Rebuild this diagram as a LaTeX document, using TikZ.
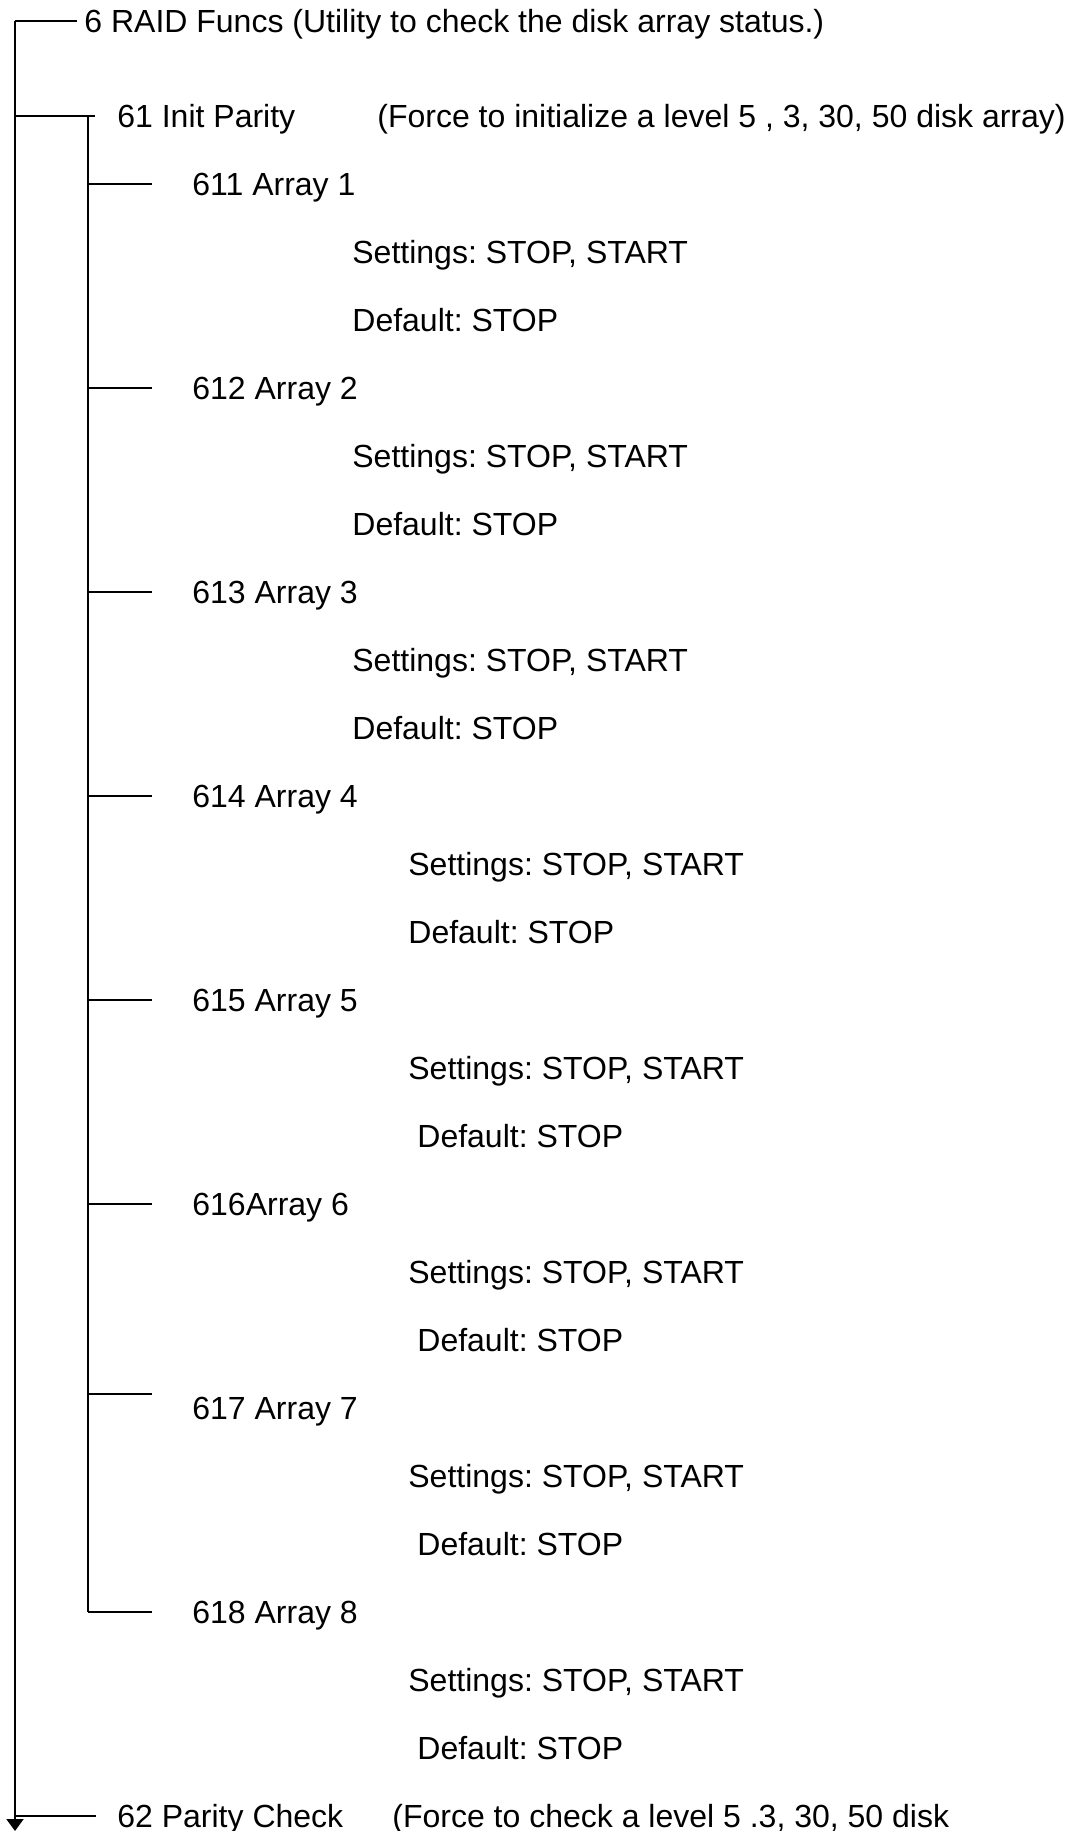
\documentclass[tikz,border=0pt]{standalone}
\usepackage{fontspec}
\setmainfont{Liberation Sans}
\usetikzlibrary{arrows.meta}
\frenchspacing

\tikzset{
  item/.style={anchor=west,inner sep=0pt,text height=11.5pt,text depth=0pt,
    font=\fontsize{16pt}{19pt}\selectfont},
  branch/.style={line width=1pt}
}

\begin{document}
\begin{tikzpicture}[x=0.5pt,y=-0.5pt]
\useasboundingbox (0,0) rectangle (1072,1831);

% Racine
\coordinate (top) at (15,21);
\coordinate (bot) at (15,1831);
\coordinate (sp) at (88,0);
\node[item] (raid) at (84,21) {6 RAID Funcs (Utility to check the disk array status.)};
\draw[branch] (top) -- ([xshift=-3.5pt]raid.west);
\draw[branch,-{Triangle[width=8.5pt,length=6pt]}] (top) -- (bot);

% 61
\node[item] (i61) at (117,115.5) {61 Init Parity};
\node[item] (f61) at (377,115.5) {(Force to initialize a level 5 , 3, 30, 50 disk array)};
\draw[branch] (i61.west -| top) -- ([xshift=-11pt]i61.west);

% 611
\node[item] (a611) at (192,183.5) {611 Array 1};
\node[item] (s611) at (352,251.5) {Settings: STOP, START};
\node[item] (d611) at (352,319.5) {Default: STOP};
\draw[branch] (a611.west -| sp) -- ([xshift=-20pt]a611.west);

% 612
\node[item] (a612) at (192,387.5) {612 Array 2};
\node[item] (s612) at (352,455.5) {Settings: STOP, START};
\node[item] (d612) at (352,523.5) {Default: STOP};
\draw[branch] (a612.west -| sp) -- ([xshift=-20pt]a612.west);

% 613
\node[item] (a613) at (192,591.5) {613 Array 3};
\node[item] (s613) at (352,659.5) {Settings: STOP, START};
\node[item] (d613) at (352,727.5) {Default: STOP};
\draw[branch] (a613.west -| sp) -- ([xshift=-20pt]a613.west);

% 614
\node[item] (a614) at (192,795.5) {614 Array 4};
\node[item] (s614) at (408,863.5) {Settings: STOP, START};
\node[item] (d614) at (408,931.5) {Default: STOP};
\draw[branch] (a614.west -| sp) -- ([xshift=-20pt]a614.west);

% 615
\node[item] (a615) at (192,999.5) {615 Array 5};
\node[item] (s615) at (408,1067.5) {Settings: STOP, START};
\node[item] (d615) at (417,1135.5) {Default: STOP};
\draw[branch] (a615.west -| sp) -- ([xshift=-20pt]a615.west);

% 616
\node[item] (a616) at (192,1203.5) {616Array 6};
\node[item] (s616) at (408,1271.5) {Settings: STOP, START};
\node[item] (d616) at (417,1339.5) {Default: STOP};
\draw[branch] (a616.west -| sp) -- ([xshift=-20pt]a616.west);

% 617
\node[item] (a617) at (192,1407.5) {617 Array 7};
\node[item] (s617) at (408,1475.5) {Settings: STOP, START};
\node[item] (d617) at (417,1543.5) {Default: STOP};
\draw[branch] ([yshift=7pt]a617.west -| sp) -- ([xshift=-20pt,yshift=7pt]a617.west);

% 618
\node[item] (a618) at (192,1611.5) {618 Array 8};
\node[item] (s618) at (408,1679.5) {Settings: STOP, START};
\node[item] (d618) at (417,1747.5) {Default: STOP};
\draw[branch] (a618.west -| sp) -- ([xshift=-20pt]a618.west);

% Tige 61
\draw[branch] (i61.west -| sp) -- (a618.west -| sp);

% 62
\node[item] (i62) at (117,1815.5) {62 Parity Check};
\node[item] (f62) at (392,1815.5) {(Force to check a level 5 .3, 30, 50 disk};
\draw[branch] (i62.west -| top) -- ([xshift=-10.5pt]i62.west);

\end{tikzpicture}
\end{document}
